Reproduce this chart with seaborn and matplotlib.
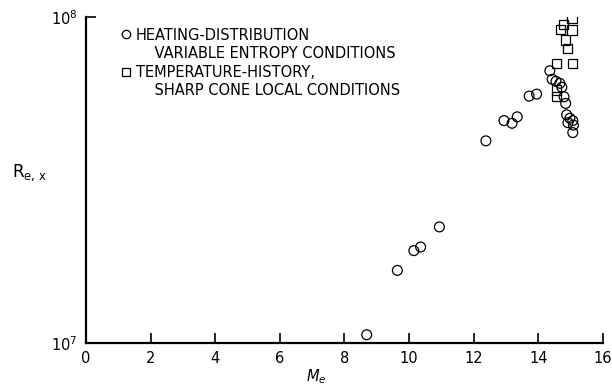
import matplotlib
matplotlib.use('Agg')
import matplotlib.pyplot as plt
from matplotlib.lines import Line2D
import matplotlib.ticker as mticker
import pandas as pd
import seaborn as sns

# Heating-distribution data (variable entropy conditions)
heat_mach = [8.69, 9.64, 10.15, 10.36, 10.94, 12.38, 12.94, 13.19, 13.35, 13.72,
             13.95, 14.36, 14.43, 14.55, 14.67, 14.73, 14.80, 14.85, 14.88, 14.98,
             14.92, 15.07, 15.09, 15.07]
heat_re = [1.06e7, 1.67e7, 1.92e7, 1.97e7, 2.27e7, 4.17e7, 4.81e7, 4.72e7, 4.94e7, 5.72e7,
           5.80e7, 6.84e7, 6.44e7, 6.35e7, 6.26e7, 6.09e7, 5.69e7, 5.43e7, 5.01e7, 4.89e7,
           4.74e7, 4.81e7, 4.66e7, 4.42e7]

# Temperature-history data (sharp cone local conditions)
temp_mach = [15.05, 14.78, 14.70, 15.05, 14.84, 14.90, 14.57, 15.07, 14.57, 14.57]
temp_re = [9.9e7, 9.5e7, 9.17e7, 9.12e7, 8.5e7, 8.02e7, 7.21e7, 7.21e7, 5.97e7, 5.69e7]

x_ticks = [0, 2, 4, 6, 8, 10, 12, 14, 16]

df_heat = pd.DataFrame({'mach': heat_mach, 're': heat_re})
df_temp = pd.DataFrame({'mach': temp_mach, 're': temp_re})

sns.set_style('ticks')
plt.rcParams['font.family'] = ['DejaVu Sans']
plt.rcParams['text.color'] = 'black'
plt.rcParams['axes.labelcolor'] = 'black'

fig = plt.figure(figsize=(6.12, 3.86), dpi=100)
ax = fig.add_axes([0.1405, 0.1114, 0.8445, 0.8446])

sns.scatterplot(data=df_heat, x='mach', y='re', marker='o', s=50,
                facecolors='none', edgecolor='black', linewidth=0.9, ax=ax)
sns.scatterplot(data=df_temp, x='mach', y='re', marker='s', s=45,
                facecolors='none', edgecolor='black', linewidth=0.9, ax=ax)

ax.set_yscale('log')
ax.set_xlim(0, 16)
ax.set_ylim(1e7, 1e8)
ax.set_xticks(x_ticks)
ax.yaxis.set_minor_locator(mticker.NullLocator())
ax.tick_params(axis='both', which='major', direction='in', length=7, width=1.2,
               colors='black', labelsize=10.5, pad=6, bottom=True, left=True)
ax.tick_params(axis='both', which='minor', length=0)

for side in ['top', 'right']:
    ax.spines[side].set_visible(False)
for side in ['left', 'bottom']:
    ax.spines[side].set_color('black')
    ax.spines[side].set_linewidth(1.6)

ax.set_xlabel(r'$M_e$', fontsize=10.5)
ax.xaxis.set_label_coords(0.445, -0.075)
ax.set_ylabel(r'$\mathregular{R_{e,\,x}}$', fontsize=12, rotation=0)
ax.yaxis.set_label_coords(-0.11, 0.49)

blank = Line2D([], [], linestyle='none', marker=None)
handles = [Line2D([], [], linestyle='none', marker='o', markersize=6, markerfacecolor='none',
                  markeredgecolor='black', markeredgewidth=0.9),
           blank,
           Line2D([], [], linestyle='none', marker='s', markersize=5.5, markerfacecolor='none',
                  markeredgecolor='black', markeredgewidth=0.9),
           blank]
labels = ['HEATING-DISTRIBUTION', '    VARIABLE ENTROPY CONDITIONS',
          'TEMPERATURE-HISTORY,', '    SHARP CONE LOCAL CONDITIONS']
ax.legend(handles, labels, loc='upper left', bbox_to_anchor=(0.055, 0.99), frameon=False,
          fontsize=10.5, handlelength=0.6, handletextpad=0.35, labelspacing=0.25,
          borderpad=0, labelcolor='black')

fig.savefig('out.png', dpi=100)
